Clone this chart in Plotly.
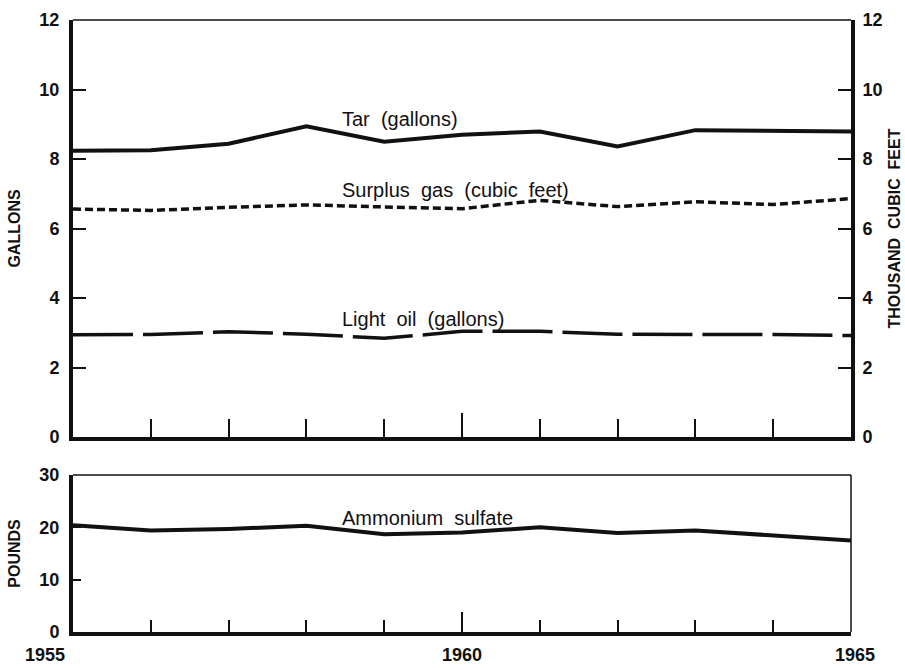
import plotly.graph_objects as go

# Coke-oven by-products per ton of coal carbonized, 1955-1965
years = [1955, 1956, 1957, 1958, 1959, 1960, 1961, 1962, 1963, 1964, 1965]
tar_gallons = [8.24, 8.25, 8.44, 8.94, 8.50, 8.70, 8.79, 8.36, 8.83, 8.82, 8.79]
surplus_gas_mcf = [6.56, 6.52, 6.61, 6.68, 6.62, 6.57, 6.81, 6.63, 6.77, 6.69, 6.86]
light_oil_gallons = [2.94, 2.95, 3.03, 2.96, 2.84, 3.04, 3.04, 2.96, 2.95, 2.95, 2.92]
ammonium_sulfate_lb = [20.4, 19.4, 19.7, 20.3, 18.7, 19.0, 20.0, 18.9, 19.4, 18.5, 17.5]

top_ticks = [0, 2, 4, 6, 8, 10, 12]
bottom_ticks = [0, 10, 20, 30]
year_labels = [1955, 1960, 1965]

FONT = "Liberation Sans"
INK = "#111111"

fig = go.Figure()

fig.add_trace(go.Scatter(x=years, y=tar_gallons, mode="lines",
                         line=dict(color=INK, width=4), xaxis="x", yaxis="y"))
fig.add_trace(go.Scatter(x=years, y=surplus_gas_mcf, mode="lines",
                         line=dict(color=INK, width=3.5, dash="8px,4px"),
                         xaxis="x", yaxis="y3"))
fig.add_trace(go.Scatter(x=years, y=light_oil_gallons, mode="lines",
                         line=dict(color=INK, width=3.5, dash="60px,10px"),
                         xaxis="x", yaxis="y"))
fig.add_trace(go.Scatter(x=years, y=ammonium_sulfate_lb, mode="lines",
                         line=dict(color=INK, width=4), xaxis="x2", yaxis="y2"))

tickfont = dict(family=FONT, size=18, color=INK, weight="bold")
titlefont = dict(family=FONT, size=16, color=INK, weight="bold")

fig.update_layout(
    width=905, height=670,
    margin=dict(l=73, r=54, t=20, b=38),
    paper_bgcolor="white", plot_bgcolor="white",
    showlegend=False,
    xaxis=dict(domain=[0, 1], range=[1955, 1965], anchor="y", automargin=False,
               showticklabels=False, showgrid=False, zeroline=False,
               showline=True, linewidth=4, linecolor=INK,
               ticks="inside", tickvals=[1960], ticklen=24, tickwidth=2, tickcolor=INK,
               minor=dict(ticks="inside", tickvals=years, ticklen=18,
                          tickwidth=2, tickcolor=INK)),
    yaxis=dict(domain=[0.3186, 1], range=[0, 12], anchor="x", automargin=False,
               tickvals=top_ticks, ticks="inside", ticklen=13, tickwidth=2,
               tickcolor=INK, tickfont=tickfont, ticklabelstandoff=6,
               showgrid=False, zeroline=False,
               showline=True, linewidth=4, linecolor=INK,
               title=dict(text="GALLONS", font=titlefont, standoff=16)),
    yaxis3=dict(range=[0, 12], overlaying="y", side="right", anchor="x",
                automargin=False,
                tickvals=top_ticks, ticks="inside", ticklen=13, tickwidth=2,
                tickcolor=INK, tickfont=tickfont, ticklabelstandoff=4,
                showgrid=False, zeroline=False,
                showline=True, linewidth=4, linecolor=INK,
                title=dict(text="THOUSAND  CUBIC  FEET", font=titlefont, standoff=8)),
    xaxis2=dict(domain=[0, 1], range=[1955, 1965], anchor="y2", automargin=False,
                showticklabels=False, showgrid=False, zeroline=False,
                showline=True, linewidth=4, linecolor=INK,
                ticks="inside", tickvals=[1960], ticklen=20, tickwidth=2, tickcolor=INK,
                minor=dict(ticks="inside", tickvals=years, ticklen=12,
                           tickwidth=2, tickcolor=INK)),
    yaxis2=dict(domain=[0, 0.2565], range=[0, 30], anchor="x2", automargin=False,
                tickvals=bottom_ticks, ticks="inside", ticklen=8, tickwidth=2,
                tickcolor=INK, tickfont=tickfont, ticklabelstandoff=6,
                showgrid=False, zeroline=False,
                showline=True, linewidth=4, linecolor=INK,
                title=dict(text="POUNDS", font=titlefont, standoff=16)),
)

# thin top border on both panels and thin right border on the lower one
for yref, xref in (("y domain", "x domain"), ("y2 domain", "x2 domain")):
    fig.add_shape(type="line", xref=xref, yref=yref, x0=0, x1=1, y0=1, y1=1,
                  line=dict(color=INK, width=1.5))
fig.add_shape(type="line", xref="x2 domain", yref="y2 domain", x0=1, x1=1, y0=0, y1=1,
              line=dict(color=INK, width=1.5))

# series labels
label_font = dict(family=FONT, size=20, color=INK)
labels = [
    ("Tar  (gallons)", "y", 9.15),
    ("Surplus  gas  (cubic  feet)", "y", 7.1),
    ("Light  oil  (gallons)", "y", 3.4),
    ("Ammonium  sulfate", "y2", 21.8),
]
for text, yref, yv in labels:
    fig.add_annotation(x=1958.43, y=yv, xref="x" if yref == "y" else "x2", yref=yref,
                       text=text, showarrow=False, xanchor="left", yanchor="middle",
                       font=label_font)

# year labels under the lower panel
for yr in year_labels:
    anchor = "right" if yr == years[0] else "center"
    shift = -6 if yr == years[0] else 4 if yr == years[-1] else 0
    fig.add_annotation(x=yr, y=0, xref="x2", yref="paper", text=str(yr),
                       showarrow=False, xanchor=anchor, yanchor="top",
                       xshift=shift, yshift=-11, font=tickfont)

fig.write_html("out.html")
